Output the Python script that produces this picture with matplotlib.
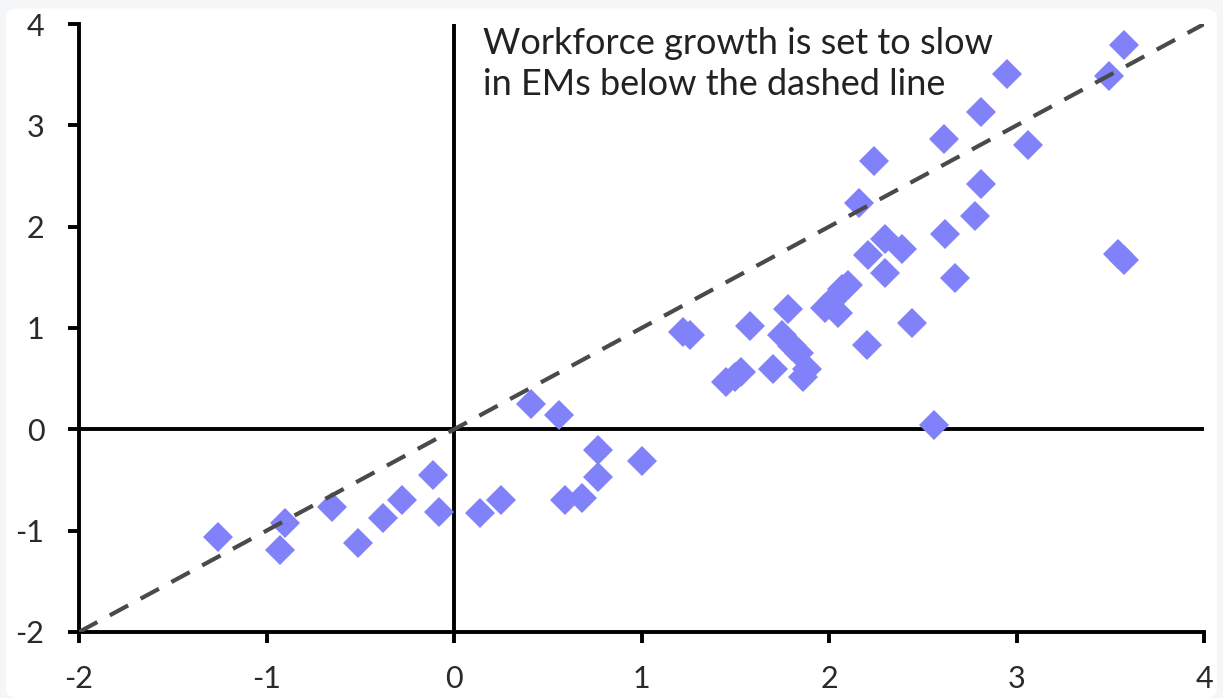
import matplotlib.pyplot as plt
from matplotlib.patches import FancyBboxPatch

# Scatter values (x, y)
x_vals = [-1.26, -0.93, -0.90, -0.65, -0.51, -0.38, -0.28, -0.11, -0.08, 0.14,
          0.25, 0.41, 0.56, 0.59, 0.68, 0.77, 0.77, 1.00, 1.22, 1.26,
          1.45, 1.50, 1.53, 1.58, 1.70, 1.75, 1.78, 1.80, 1.84, 1.86,
          1.88, 1.98, 2.02, 2.05, 2.07, 2.10, 2.16, 2.20, 2.21, 2.24,
          2.30, 2.30, 2.39, 2.44, 2.56, 2.61, 2.62, 2.67, 2.78, 2.81,
          2.81, 2.95, 3.06, 3.49, 3.54, 3.57, 3.57]
y_vals = [-1.06, -1.19, -0.92, -0.77, -1.12, -0.88, -0.70, -0.45, -0.82, -0.83,
          -0.70, 0.25, 0.14, -0.70, -0.68, -0.47, -0.20, -0.31, 0.96, 0.93,
          0.47, 0.52, 0.57, 1.02, 0.60, 0.93, 1.19, 0.82, 0.75, 0.52,
          0.60, 1.20, 1.28, 1.15, 1.38, 1.42, 2.23, 0.83, 1.72, 2.65,
          1.54, 1.88, 1.78, 1.05, 0.04, 2.87, 1.93, 1.49, 2.11, 2.42,
          3.13, 3.51, 2.81, 3.49, 1.73, 1.67, 3.79]

ticks = [-2, -1, 0, 1, 2, 3, 4]
note = "Workforce growth is set to slow\nin EMs below the dashed line"

plt.rcParams['font.family'] = ['Lato', 'DejaVu Sans']

fig = plt.figure(figsize=(12.23, 6.98), dpi=100, facecolor='#f5f6f8')
panel = FancyBboxPatch((0.005, 0.0), 0.99, 0.988, boxstyle='round,pad=0,rounding_size=0.012',
                       transform=fig.transFigure, facecolor='white', edgecolor='none', zorder=-10)
fig.patches.append(panel)

ax = fig.add_axes([0.0646, 0.0946, 0.92, 0.871])
ax.set_facecolor('none')

# zero lines
ax.axhline(0, color='black', lw=2.8, zorder=1)
ax.axvline(0, color='black', lw=2.8, zorder=1)

# 45 degree reference line
ax.plot([-2, 4], [-2, 4], color='#4a4a4a', lw=3.0, dashes=(5.0, 3.4), zorder=3)

ax.plot(x_vals, y_vals, linestyle='none', marker='D', ms=15, color='#8181f9',
        markeredgewidth=0, zorder=2)

ax.set_xlim(-2, 4)
ax.set_ylim(-2, 4)
ax.set_xticks(ticks)
ax.set_yticks(ticks)
ax.set_xticklabels([str(t) for t in ticks])
ax.set_yticklabels([str(t) for t in ticks])

for s in ['top', 'right']:
    ax.spines[s].set_visible(False)
for s in ['left', 'bottom']:
    ax.spines[s].set_linewidth(2.8)
ax.tick_params(axis='both', width=2.8, length=8, labelsize=22, color='black', labelcolor='#2a2a2a')
ax.tick_params(axis='y', pad=17)
ax.tick_params(axis='x', pad=16)

ax.text(0.155, 3.97, note, ha='left', va='top', fontsize=26, color='#222222',
        linespacing=1.3)

fig.savefig('out.png', dpi=100, facecolor=fig.get_facecolor())
